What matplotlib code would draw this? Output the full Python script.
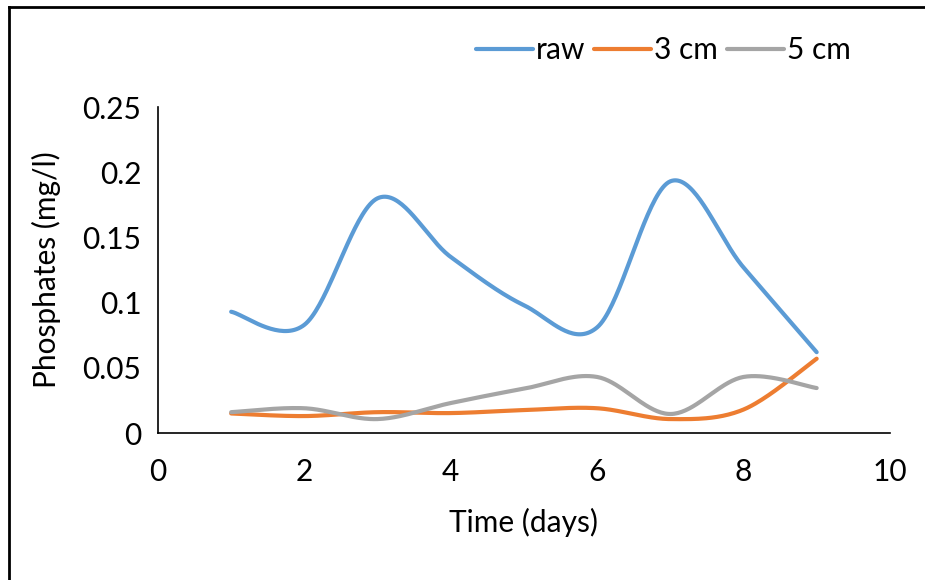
import numpy as np
import matplotlib
matplotlib.use("Agg")
import matplotlib.pyplot as plt
from matplotlib.lines import Line2D

plt.rcParams['font.family'] = ['Lato', 'DejaVu Sans']

days = [1, 2, 3, 4, 5, 6, 7, 8, 9]
raw = [0.093, 0.083, 0.180, 0.135, 0.098, 0.081, 0.193, 0.127, 0.062]
cm3 = [0.015, 0.013, 0.016, 0.0153, 0.0176, 0.019, 0.0107, 0.018, 0.057]
cm5 = [0.016, 0.019, 0.0107, 0.023, 0.034, 0.043, 0.0146, 0.043, 0.0345]

series_names = ['raw', '3 cm', '5 cm']
colors = ['#5B9BD5', '#ED7D31', '#A5A5A5']


def excel_smooth(x, y, n=40):
    x = np.asarray(x, float)
    y = np.asarray(y, float)
    P = np.column_stack([x, y])
    out = []
    m = len(P)
    for i in range(m - 1):
        p0 = P[i - 1] if i > 0 else P[i]
        p1 = P[i]
        p2 = P[i + 1]
        p3 = P[i + 2] if i + 2 < m else P[i + 1]
        c1 = p1 + (p2 - p0) / 6.0
        c2 = p2 - (p3 - p1) / 6.0
        t = np.linspace(0, 1, n)[:, None]
        seg = ((1 - t) ** 3) * p1 + 3 * ((1 - t) ** 2) * t * c1 + 3 * (1 - t) * t ** 2 * c2 + t ** 3 * p2
        if i > 0:
            seg = seg[1:]
        out.append(seg)
    out = np.vstack(out)
    return out[:, 0], out[:, 1]


fig = plt.figure(figsize=(9.25, 5.8), dpi=100)
ax = fig.add_axes([0.1708, 0.2534, 0.962 - 0.1708, 0.8155 - 0.2534])

for vals, name, c in zip([raw, cm3, cm5], series_names, colors):
    sx, sy = excel_smooth(days, vals)
    ax.plot(sx, sy, color=c, lw=3, label=name, solid_capstyle='round')

FS = 21.5
ax.set_xlim(0, 10)
ax.set_ylim(0, 0.25)
ax.set_xticks([0, 2, 4, 6, 8, 10])
ax.set_yticks([0, 0.05, 0.1, 0.15, 0.2, 0.25])
ax.set_yticklabels(['0', '0.05', '0.1', '0.15', '0.2', '0.25'])
ax.tick_params(length=0, labelsize=FS)
ax.tick_params(axis='y', pad=12)
ax.tick_params(axis='x', pad=18)
for s in ['top', 'right']:
    ax.spines[s].set_visible(False)
for s in ['left', 'bottom']:
    ax.spines[s].set_linewidth(1.2)
    ax.spines[s].set_color('black')

ax.set_xlabel('Time (days)', fontsize=FS, labelpad=16)
ax.set_ylabel('Phosphates (mg/l)', fontsize=FS, labelpad=15)

ax.legend(loc='center', bbox_to_anchor=(0.717, 0.913), bbox_transform=fig.transFigure,
          ncol=3, frameon=False, fontsize=FS, handlelength=1.9, columnspacing=0.3,
          handletextpad=0.1)

# figure border (top and left)
fig.add_artist(Line2D([0.0095, 1.0], [1 - 6.5 / 580, 1 - 6.5 / 580], transform=fig.transFigure, color='black', lw=2))
fig.add_artist(Line2D([0.0095, 0.0095], [0.0, 1 - 6.5 / 580], transform=fig.transFigure, color='black', lw=2))

fig.savefig('out.png', dpi=100, facecolor='white')
